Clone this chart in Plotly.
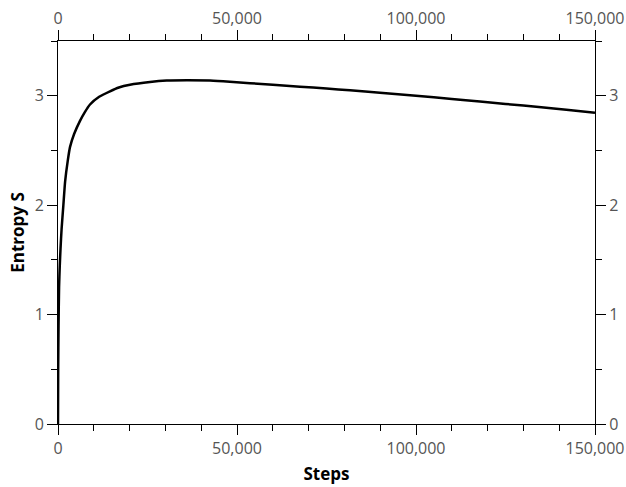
import plotly.graph_objects as go

steps = [0, 50, 150, 300, 500, 700, 1000, 1500, 2000, 2700, 3350, 4500, 6145, 7500,
         8940, 11500, 14520, 17000, 20110, 25700, 30360, 36000, 42450, 48000, 53630,
         60000, 67590, 75000, 81550, 89930, 100000, 110000, 117860, 125000, 135000,
         142000, 150000]
entropy = [0.0, 0.5, 0.9, 1.25, 1.45, 1.6, 1.78, 2.0, 2.22, 2.4, 2.53, 2.65, 2.77, 2.85,
           2.92, 2.99, 3.04, 3.075, 3.10, 3.125, 3.138, 3.142, 3.138, 3.128, 3.115,
           3.10, 3.083, 3.065, 3.05, 3.027, 3.0, 2.97, 2.948, 2.925, 2.895,
           2.872, 2.845]

xticks = [0, 50000, 100000, 150000]
xticklabels = ["0", "50,000", "100,000", "150,000"]
yticks = [0, 1, 2, 3]

font = dict(family="Open Sans", size=16, color="#555555")
title_font = dict(family="Open Sans", size=17, color="black")

fig = go.Figure()
fig.add_trace(go.Scatter(x=steps, y=entropy, mode="lines",
                         line=dict(color="black", width=2.5, shape="spline", smoothing=0.6),
                         showlegend=False, hoverinfo="skip"))
fig.add_trace(go.Scatter(x=[0, 150000], y=[0, 0], xaxis="x2", yaxis="y2",
                         mode="lines", line=dict(width=0), opacity=0,
                         showlegend=False, hoverinfo="skip"))

common_x = dict(range=[0, 150000], tickvals=xticks, ticktext=xticklabels,
                ticks="outside", ticklen=10, tickwidth=1, tickcolor="black",
                showline=True, linecolor="black", linewidth=1, showgrid=False,
                zeroline=False, tickfont=font, automargin=False,
                minor=dict(ticks="outside", dtick=10000, ticklen=6,
                           tickcolor="black", tickwidth=1, showgrid=False))
common_y = dict(range=[0, 3.5], tickvals=yticks,
                ticks="outside", ticklen=10, tickwidth=1, tickcolor="black",
                showline=True, linecolor="black", linewidth=1, showgrid=False,
                zeroline=False, tickfont=font, automargin=False,
                minor=dict(ticks="outside", dtick=0.5, ticklen=6,
                           tickcolor="black", tickwidth=1, showgrid=False))

fig.update_layout(
    width=626, height=487,
    margin=dict(l=58, r=31, t=41, b=63, autoexpand=False),
    paper_bgcolor="white", plot_bgcolor="white",
    xaxis=dict(**common_x, side="bottom",
               title=dict(text="<b>Steps</b>", standoff=9, font=title_font)),
    yaxis=dict(**common_y, side="left",
               title=dict(text="<b>Entropy S</b>", standoff=5, font=title_font)),
    xaxis2=dict(**common_x, side="top", overlaying="x"),
    yaxis2=dict(**common_y, side="right", overlaying="y"),
)

fig.write_html(
    "out.html",
    config={"displayModeBar": False},
    post_script="document.body.style.margin='0';document.body.style.overflow='hidden';",
)
